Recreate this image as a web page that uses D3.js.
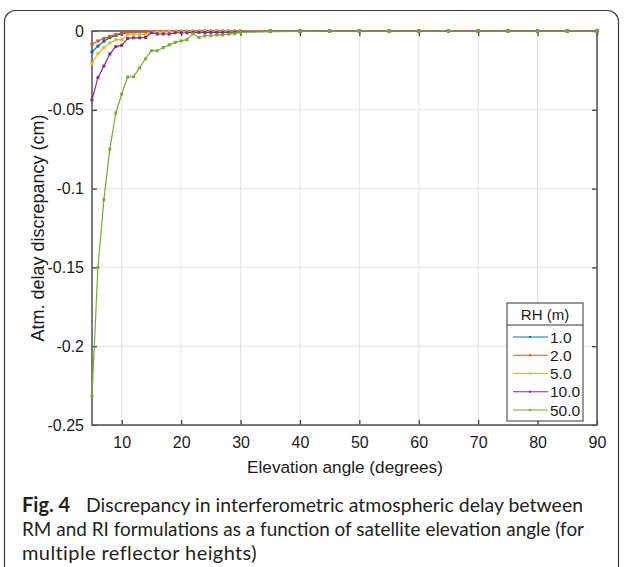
<!DOCTYPE html>
<html>
<head>
<meta charset="utf-8">
<script src="https://cdn.jsdelivr.net/npm/d3@7"></script>
<style>
  html, body { margin: 0; padding: 0; background: #fff; }
  svg { display: block; }
</style>
</head>
<body>
<svg id="fig" width="624" height="567"></svg>
<script>
// Elevation angles (degrees): every degree up to 30, then every 5 degrees
const elevation = [5,6,7,8,9,10,11,12,13,14,15,16,17,18,19,20,21,22,23,24,25,26,27,28,29,30,35,40,45,50,55,60,65,70,75,80,85,90];

// Reflector heights (m) shown in the legend
const heightLabels = ["1.0", "2.0", "5.0", "10.0", "50.0"];
const seriesColors = ["#0072BD", "#D95319", "#EDB120", "#7E2F8E", "#77AC30"];

// Atmospheric delay discrepancy (cm) per reflector height
const rh1 = [-0.0132,-0.0096,-0.0065,-0.0042,-0.0028,-0.0018,-0.0012,-0.0009,-0.0007,-0.0006,-0.0005,-0.0004,-0.0003,-0.0003,-0.0003,-0.0002,-0.0002,-0.0002,-0.0002,-0.0001,-0.0001,-0.0001,-0.0001,-0.0001,-0.0001,-0.0001,0,0,0,0,0,0,0,0,0,0,0,0];
const rh2 = [-0.0084,-0.0063,-0.0048,-0.0034,-0.0023,-0.0013,-0.0008,-0.0006,-0.0005,-0.0004,-0.0003,-0.0003,-0.0002,-0.0002,-0.0002,-0.0001,-0.0001,-0.0001,-0.0001,-0.0001,-0.0001,-0.0001,0,0,0,0,0,0,0,0,0,0,0,0,0,0,0,0];
const rh5 = [-0.0206,-0.0143,-0.0105,-0.0076,-0.0055,-0.0055,-0.0023,-0.0021,-0.0021,-0.0021,-0.0006,-0.0005,-0.0005,-0.0005,-0.0005,-0.0004,-0.0003,-0.0003,-0.0003,-0.0002,-0.0002,-0.0002,-0.0002,-0.0001,-0.0001,-0.0001,-0.0001,0,0,0,0,0,0,0,0,0,0,0];
const rh10 = [-0.0437,-0.0296,-0.0222,-0.0146,-0.0099,-0.0091,-0.0047,-0.0043,-0.0043,-0.0041,-0.0011,-0.0019,-0.0019,-0.0019,-0.0011,-0.0011,-0.0011,-0.0009,-0.0009,-0.0009,-0.0009,-0.0009,-0.0009,-0.0009,-0.0008,-0.0006,-0.0002,0,0,0,0,0,0,0,0,0,0,0];
const rh50 = [-0.2316,-0.150,-0.107,-0.075,-0.052,-0.040,-0.0292,-0.0290,-0.0235,-0.0176,-0.0125,-0.0125,-0.0105,-0.0088,-0.0072,-0.0063,-0.0055,-0.0017,-0.0042,-0.0030,-0.0030,-0.0025,-0.0025,-0.0020,-0.0017,-0.0008,-0.0004,-0.0002,0,0,0,0,0,0,0,0,0,0];

const seriesValues = [rh1, rh2, rh5, rh10, rh50];

// Axis ticks
const xTicks = [10,20,30,40,50,60,70,80,90];
const yTicks = [0,-0.05,-0.1,-0.15,-0.2,-0.25];
const yTickLabels = ["0","-0.05","-0.1","-0.15","-0.2","-0.25"];

// Caption
const captionLabel = "Fig. 4";
const captionLines = [
  "Discrepancy in interferometric atmospheric delay between",
  "RM and RI formulations as a function of satellite elevation angle (for",
  "multiple reflector heights)"
];

const svg = d3.select("#fig");
const axisFont = "'Liberation Sans', Arial, sans-serif";
const captionFont = "Lato, 'Open Sans', sans-serif";

// Rounded frame around figure and caption
svg.append("rect")
  .attr("x", 4.5).attr("y", 10.5)
  .attr("width", 614).attr("height", 600)
  .attr("rx", 11).attr("ry", 11)
  .attr("fill", "none").attr("stroke", "#3a3a3a").attr("stroke-width", 1.2);

const plot = { left: 92, right: 597, top: 31, bottom: 425 };

const x = d3.scaleLinear().domain([5, 90]).range([plot.left, plot.right]);
const y = d3.scaleLinear().domain([-0.25, 0]).range([plot.bottom, plot.top]);

// Grid
const grid = svg.append("g");
grid.selectAll("line.gx").data(xTicks).join("line")
  .attr("x1", d => x(d)).attr("x2", d => x(d))
  .attr("y1", plot.top).attr("y2", plot.bottom)
  .attr("stroke", "#e3e3e3").attr("stroke-width", 1);
grid.selectAll("line.gy").data(yTicks).join("line")
  .attr("x1", plot.left).attr("x2", plot.right)
  .attr("y1", d => y(d)).attr("y2", d => y(d))
  .attr("stroke", "#e3e3e3").attr("stroke-width", 1);

// Axes with inward ticks
const tickLen = 5;
const axisColor = "#5a5a5a";
function styleAxis(g) {
  g.select(".domain").remove();
  g.selectAll(".tick line").attr("stroke", "#333").attr("stroke-width", 1.2);
  g.selectAll(".tick text").attr("font-family", axisFont).attr("font-size", 16).attr("fill", "#1a1a1a");
}

svg.append("g").attr("transform", `translate(0,${plot.bottom})`)
  .call(d3.axisBottom(x).tickValues(xTicks).tickSizeInner(-tickLen).tickSizeOuter(0).tickPadding(12).tickFormat(d3.format("d")))
  .call(styleAxis);
svg.append("g").attr("transform", `translate(0,${plot.top})`)
  .call(d3.axisTop(x).tickValues(xTicks).tickSizeInner(-tickLen).tickSizeOuter(0).tickFormat(""))
  .call(styleAxis);
svg.append("g").attr("transform", `translate(${plot.left},0)`)
  .call(d3.axisLeft(y).tickValues(yTicks).tickSizeInner(-tickLen).tickSizeOuter(0).tickPadding(8)
    .tickFormat((d, i) => yTickLabels[i]))
  .call(styleAxis);
svg.append("g").attr("transform", `translate(${plot.right},0)`)
  .call(d3.axisRight(y).tickValues(yTicks).tickSizeInner(-tickLen).tickSizeOuter(0).tickFormat(""))
  .call(styleAxis);

// Plot box
svg.append("rect")
  .attr("x", plot.left).attr("y", plot.top)
  .attr("width", plot.right - plot.left).attr("height", plot.bottom - plot.top)
  .attr("fill", "none").attr("stroke", axisColor).attr("stroke-width", 1.6);

// Series lines with dot markers
const line = d3.line().x((d, i) => x(elevation[i])).y(d => y(d));
svg.append("clipPath").attr("id", "plotclip")
  .append("rect").attr("x", plot.left - 3).attr("y", plot.top - 3)
  .attr("width", plot.right - plot.left + 6).attr("height", plot.bottom - plot.top + 6);

const seriesG = svg.append("g").attr("clip-path", "url(#plotclip)");
seriesValues.forEach((vals, k) => {
  const g = seriesG.append("g");
  g.append("path").datum(vals)
    .attr("d", line)
    .attr("fill", "none")
    .attr("stroke", seriesColors[k])
    .attr("stroke-width", 1.2);
  g.selectAll("rect").data(vals).join("rect")
    .attr("x", (d, i) => x(elevation[i]) - 1.5)
    .attr("y", d => y(d) - 1.5)
    .attr("width", 3).attr("height", 3)
    .attr("fill", seriesColors[k]);
});

// Axis titles
svg.append("text")
  .attr("x", 345).attr("y", 473)
  .attr("text-anchor", "middle")
  .attr("font-family", axisFont).attr("font-size", 17.2).attr("fill", "#1a1a1a")
  .text("Elevation angle (degrees)");

svg.append("text")
  .attr("transform", `translate(44,${(plot.top + plot.bottom) / 2}) rotate(-90)`)
  .attr("text-anchor", "middle")
  .attr("font-family", axisFont).attr("font-size", 18).attr("fill", "#1a1a1a")
  .text("Atm. delay discrepancy (cm)");

// Legend
const leg = { left: 507, right: 583, top: 303, header: 325, bottom: 421 };
const lg = svg.append("g");
lg.append("rect")
  .attr("x", leg.left).attr("y", leg.top)
  .attr("width", leg.right - leg.left).attr("height", leg.bottom - leg.top)
  .attr("fill", "#fff").attr("stroke", "#333").attr("stroke-width", 1);
lg.append("line")
  .attr("x1", leg.left).attr("x2", leg.right)
  .attr("y1", leg.header).attr("y2", leg.header)
  .attr("stroke", "#333").attr("stroke-width", 1);
lg.append("text")
  .attr("x", (leg.left + leg.right) / 2).attr("y", 320)
  .attr("text-anchor", "middle")
  .attr("font-family", axisFont).attr("font-size", 15).attr("fill", "#1a1a1a")
  .text("RH (m)");

const legendY = d3.scalePoint().domain(heightLabels).range([337, 410]);
heightLabels.forEach((lab, k) => {
  const yy = legendY(lab);
  lg.append("line")
    .attr("x1", 513).attr("x2", 548).attr("y1", yy).attr("y2", yy)
    .attr("stroke", seriesColors[k]).attr("stroke-width", 1.2);
  lg.append("rect")
    .attr("x", 529).attr("y", yy - 1).attr("width", 2).attr("height", 2)
    .attr("fill", seriesColors[k]);
  lg.append("text")
    .attr("x", 550).attr("y", yy + 5.5)
    .attr("font-family", axisFont).attr("font-size", 15.5).attr("fill", "#1a1a1a")
    .text(lab);
});

// Caption; the two long lines are fitted to the caption width
const cap = svg.append("g").attr("font-family", captionFont).attr("font-size", 20).attr("fill", "#231f20");
cap.append("text").attr("x", 22).attr("y", 512)
  .attr("font-weight", "bold")
  .text(captionLabel);
cap.append("text").attr("x", 86).attr("y", 512)
  .attr("textLength", 497).attr("lengthAdjust", "spacingAndGlyphs")
  .text(captionLines[0]);
cap.append("text").attr("x", 22).attr("y", 536)
  .attr("textLength", 562).attr("lengthAdjust", "spacingAndGlyphs")
  .text(captionLines[1]);
cap.append("text").attr("x", 22).attr("y", 560)
  .attr("letter-spacing", 0.4)
  .text(captionLines[2]);
</script>
</body>
</html>
